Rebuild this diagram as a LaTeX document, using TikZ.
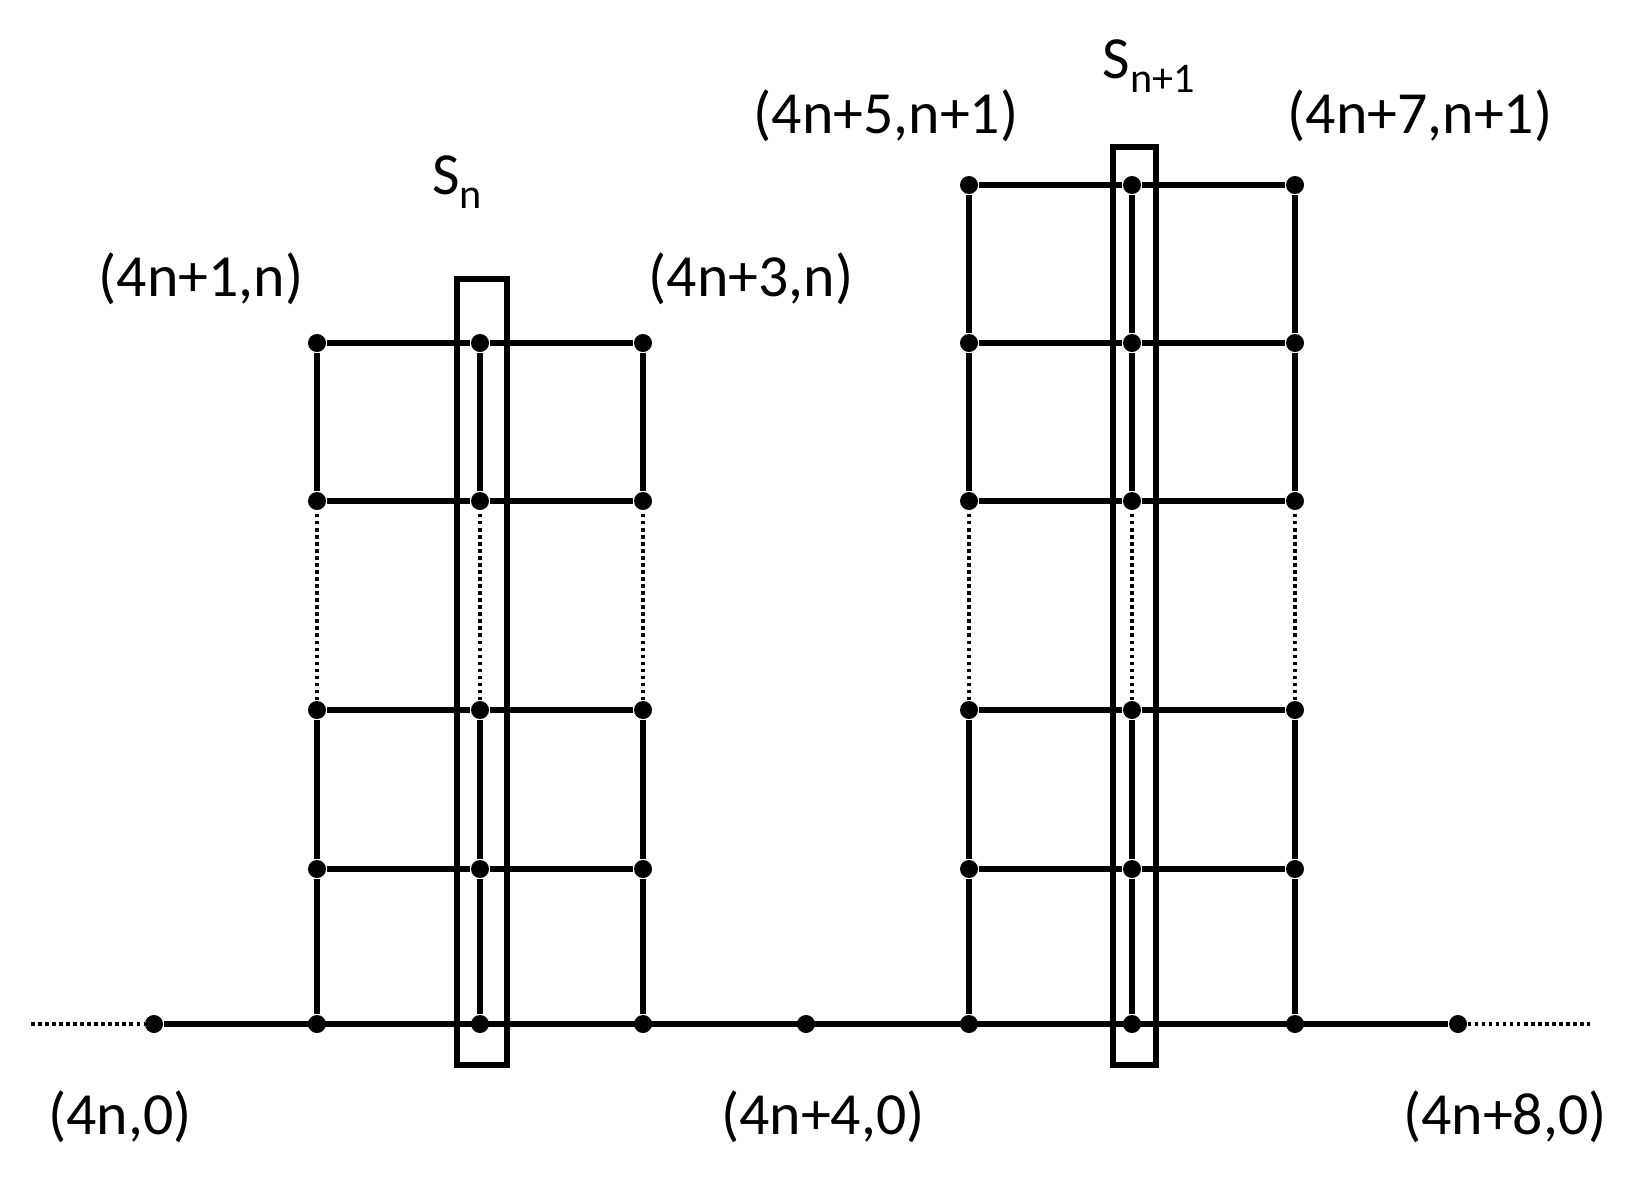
\documentclass[tikz,border=0pt]{standalone}
\usepackage{fontspec}
\setmainfont{Carlito}
\usetikzlibrary{positioning}

\tikzset{
  dot/.style={circle,fill,inner sep=0pt,minimum size=0.18cm},
  wire/.style={line width=1.6pt},
  gap/.style={line width=1.1pt,dash pattern=on 1pt off 1pt},
  lab/.style={font=\fontsize{17}{20}\selectfont,inner sep=0pt},
  strip/.style={line width=1.8pt}
}

\begin{document}
\begin{tikzpicture}[x=0.01cm, y=-0.01cm]
\useasboundingbox (0,0) rectangle (1630,1187);

% dots on the axis
\foreach \k in {0,...,8}
  \node[dot] (p\k-0) at ({154+163*\k},1024) {};
\coordinate (w) at (31,1024);
\coordinate (e) at (1590,1024);

% the two towers
\foreach \k in {1,2,3}
  \foreach \r/\y in {1/869,2/710,3/501,4/343}
    \node[dot] (p\k-\r) at ({154+163*\k},\y) {};
\foreach \k in {5,6,7}
  \foreach \r/\y in {1/869,2/710,3/501,4/343,5/185}
    \node[dot] (p\k-\r) at ({154+163*\k},\y) {};

\draw[gap] (w) -- (p0-0);
\draw[wire] (p0-0) -- (p8-0);
\draw[gap] (p8-0) -- (e);

\foreach \k in {1,2,3} {
  \draw[wire] (p\k-0) -- (p\k-1) -- (p\k-2);
  \draw[gap] (p\k-2) -- (p\k-3);
  \draw[wire] (p\k-3) -- (p\k-4);
}
\foreach \k in {5,6,7} {
  \draw[wire] (p\k-0) -- (p\k-1) -- (p\k-2);
  \draw[gap] (p\k-2) -- (p\k-3);
  \draw[wire] (p\k-3) -- (p\k-4) -- (p\k-5);
}
\foreach \r in {1,2,3,4}
  \draw[wire] (p1-\r) -- (p2-\r) -- (p3-\r);
\foreach \r in {1,2,3,4,5}
  \draw[wire] (p5-\r) -- (p6-\r) -- (p7-\r);

% the strips S_n and S_{n+1}
\draw[strip] (457,279) rectangle (507,1065);
\draw[strip] (1113,147) rectangle (1156,1065);

\node[lab] (sn) at (457,182) {S\raisebox{-4pt}{\fontsize{12}{13}\selectfont n}};
\node[lab] (sn1) at (1149,66) {S\raisebox{-4pt}{\fontsize{12}{13}\selectfont n+1}};

\node[lab] (a1) at (201,279) {(4n+1,n)};
\node[lab] (a3) at (751,279) {(4n+3,n)};
\node[lab] (a5) at (886,116) {(4n+5,n+1)};
\node[lab] (a7) at (1420,116) {(4n+7,n+1)};
\node[lab] (a0) at (120,1117) {(4n,0)};
\node[lab] (a4) at (823,1117) {(4n+4,0)};
\node[lab] (a8) at (1505,1117) {(4n+8,0)};
\end{tikzpicture}
\end{document}
